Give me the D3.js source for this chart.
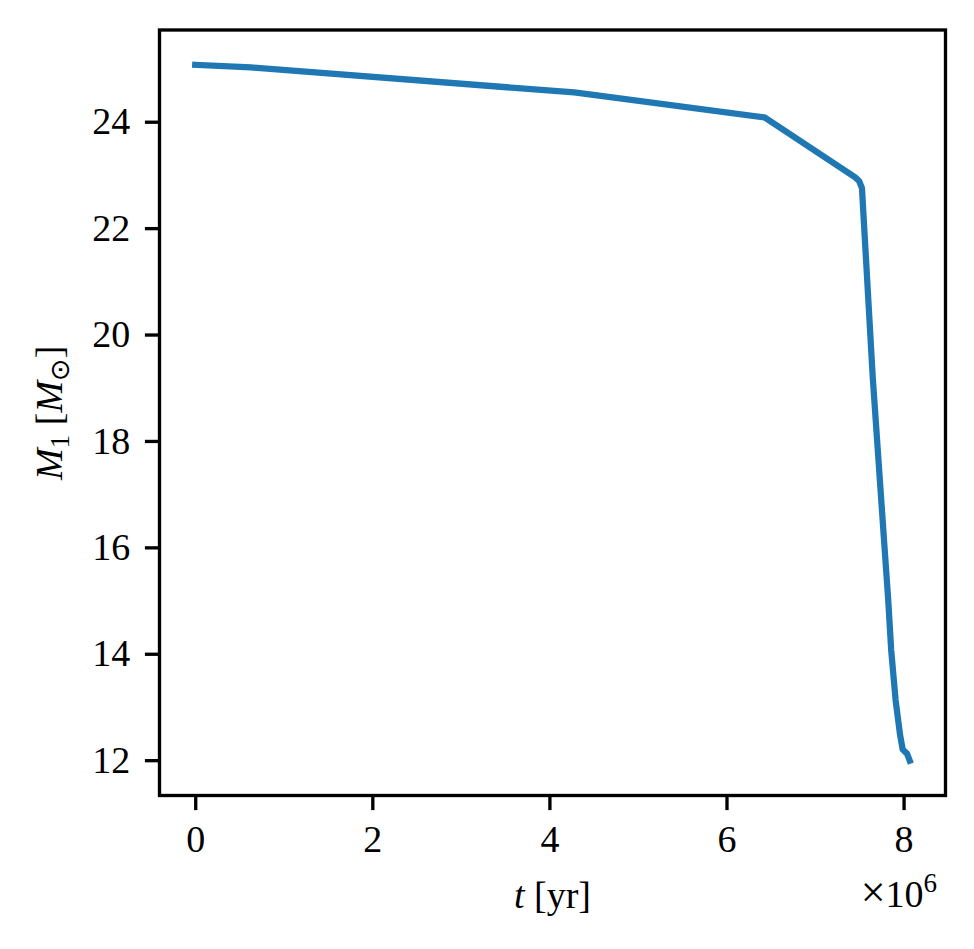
<!DOCTYPE html>
<html>
<head>
<meta charset="utf-8">
<script src="https://cdn.jsdelivr.net/npm/d3@7"></script>
<style>
  html, body { margin: 0; padding: 0; background: #fff; }
  svg text { font-family: "Liberation Serif", "DejaVu Serif", serif; fill: #000; }
</style>
</head>
<body>
<svg id="chart" width="974" height="949"></svg>
<script>
// ---- data (t in years, M1 in solar masses) ----
const tYears = [0, 0.63e6, 4.28e6, 6.43e6, 7.45e6, 7.50e6, 7.53e6, 7.652e6, 7.785e6,
                7.827e6, 7.86e6, 7.91e6, 7.96e6, 7.99e6, 8.04e6, 8.07e6];
const massM1 = [25.07, 25.02, 24.55, 24.08, 22.96, 22.88, 22.75, 19.19, 16.0,
                15.0, 14.07, 13.13, 12.48, 12.20, 12.12, 11.99];
const xTicks = [0, 2e6, 4e6, 6e6, 8e6];
const yTicks = [12, 14, 16, 18, 20, 22, 24];
const xScaleExp = 1e6;

(function () {
const svg = d3.select("#chart");
const pL = 159.5, pR = 945.5, pT = 30, pB = 795.5;

function padded(ext) { const r = ext[1] - ext[0]; return [ext[0] - 0.05 * r, ext[1] + 0.05 * r]; }

const x = d3.scaleLinear().domain(padded(d3.extent(tYears))).range([pL, pR]);
const y = d3.scaleLinear().domain(padded(d3.extent(massM1))).range([pB, pT]);

const lw = 3.33, tickLen = 14.6, fs = 38;

// line
const pts = tYears.map((t, i) => [t, massM1[i]]);
svg.append("path")
  .datum(pts)
  .attr("fill", "none")
  .attr("stroke", "#1f77b4")
  .attr("stroke-width", 6.25)
  .attr("stroke-linecap", "square")
  .attr("stroke-linejoin", "round")
  .attr("d", d3.line().x(d => x(d[0])).y(d => y(d[1])));

// axes
const xAxis = d3.axisBottom(x).tickValues(xTicks).tickFormat(d => d3.format("d")(d / xScaleExp))
  .tickSizeInner(tickLen).tickSizeOuter(0).tickPadding(14.6);
const yAxis = d3.axisLeft(y).tickValues(yTicks).tickFormat(d3.format("d"))
  .tickSizeInner(tickLen).tickSizeOuter(0).tickPadding(14.6);

const gx = svg.append("g").attr("transform", `translate(0,${pB})`).call(xAxis);
const gy = svg.append("g").attr("transform", `translate(${pL},0)`).call(yAxis);
[gx, gy].forEach(g => {
  g.select(".domain").remove();
  g.selectAll(".tick line").attr("stroke", "#000").attr("stroke-width", lw);
  g.selectAll(".tick text").attr("font-size", fs).attr("fill", "#000")
    .style("font-family", '"Liberation Serif", "DejaVu Serif", serif');
});

// frame
svg.append("rect")
  .attr("x", pL).attr("y", pT)
  .attr("width", pR - pL).attr("height", pB - pT)
  .attr("fill", "none").attr("stroke", "#000").attr("stroke-width", lw);

// x label
const xl = svg.append("text").attr("x", (pL + pR) / 2).attr("y", 908)
  .attr("text-anchor", "middle").attr("font-size", fs);
xl.append("tspan").attr("font-style", "italic").text("t");
xl.append("tspan").text(" [yr]");

// offset text
const off = svg.append("text").attr("x", 937).attr("y", 907)
  .attr("text-anchor", "end").attr("font-size", fs);
off.append("tspan").attr("font-size", 44).text("×");
off.append("tspan").text("10");
off.append("tspan").attr("font-size", 27).attr("dy", -15).text("6");

// y label
const yl = svg.append("text")
  .attr("transform", `translate(62,${(pT + pB) / 2}) rotate(-90)`)
  .attr("text-anchor", "middle").attr("font-size", fs);
yl.append("tspan").attr("font-style", "italic").text("M");
yl.append("tspan").attr("font-size", 27).attr("dy", 7).text("1");
yl.append("tspan").attr("dy", -7).text(" [");
yl.append("tspan").attr("font-style", "italic").text("M");
yl.append("tspan").attr("font-size", 27).attr("dy", 7).style("font-family", '"DejaVu Sans", sans-serif').text("⊙");
yl.append("tspan").attr("dy", -7).text("]");
})();
</script>
</body>
</html>
